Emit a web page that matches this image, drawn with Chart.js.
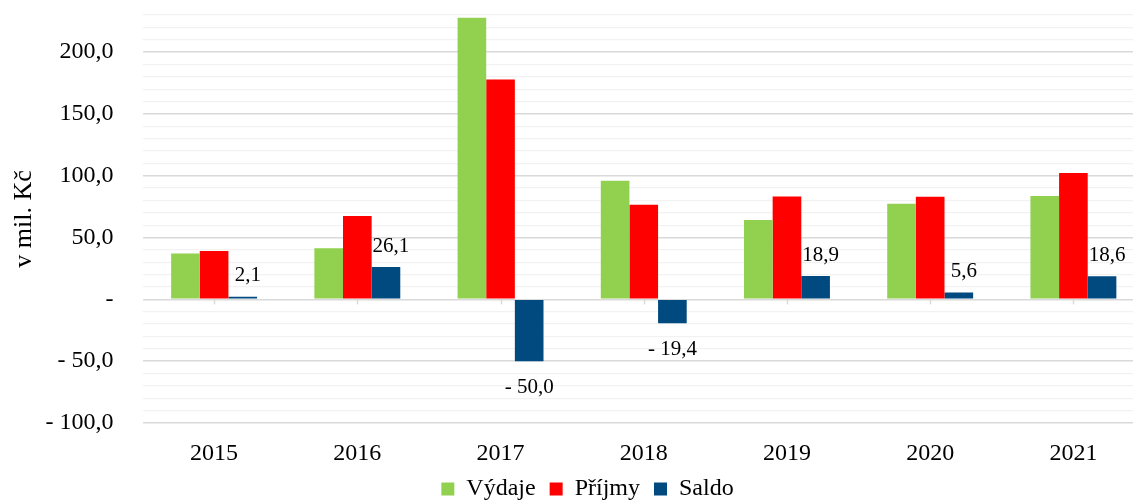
<!DOCTYPE html>
<html>
<head>
<meta charset="utf-8">
<script src="https://cdn.jsdelivr.net/npm/chart.js@4.4.0/dist/chart.umd.min.js"></script>
<style>
  html, body { margin: 0; padding: 0; background: #fff; overflow: hidden; }
</style>
</head>
<body>
<canvas id="graf" width="1150" height="501"></canvas>
<script>
const roky = ['2015', '2016', '2017', '2018', '2019', '2020', '2021'];
const vydaje = [37.0, 41.4, 227.8, 96.0, 64.2, 77.4, 83.6];
const prijmy = [39.1, 67.5, 177.8, 76.6, 83.1, 83.0, 102.2];
const saldo = [2.1, 26.1, -50.0, -19.4, 18.9, 5.6, 18.6];

const PISMO = '"Liberation Serif", "Times New Roman", serif';
const BARVY = {
  vydaje: '#92d050',
  prijmy: '#ff0000',
  saldo: '#004a80',
  mrizka: '#d9d9d9',
  mrizkaJemna: '#f2f2f2'
};

// cesky ucetni format: "- 50,0", nula jako "-"
const fmt = (v) => {
  if (Math.abs(v) < 1e-9) return '-';
  const s = Math.abs(v).toFixed(1).replace('.', ',');
  return v < 0 ? '- ' + s : s;
};

const popisky = {
  id: 'popisky',
  afterDatasetsDraw(chart) {
    const { ctx, scales: { x, y } } = chart;
    ctx.save();

    // male znacky kategorii pod nulovou osou
    const y0 = y.getPixelForValue(0);
    ctx.strokeStyle = BARVY.mrizka;
    ctx.lineWidth = 1.5;
    roky.forEach((r, i) => {
      const px = Math.round(x.getPixelForValue(i)) + 0.5;
      ctx.beginPath();
      ctx.moveTo(px, y0);
      ctx.lineTo(px, y0 + 5);
      ctx.stroke();
    });

    // hodnoty salda
    ctx.font = '21px ' + PISMO;
    ctx.fillStyle = '#000';
    ctx.textAlign = 'center';
    ctx.textBaseline = 'middle';
    chart.getDatasetMeta(2).data.forEach((bar, i) => {
      const v = saldo[i];
      if (v >= 0) ctx.fillText(fmt(v), bar.x + 5, bar.y - 21);
      else ctx.fillText(fmt(v), bar.x, bar.y + 26);
    });
    ctx.restore();
  }
};

const ctx = document.getElementById('graf');

const myChart = new Chart(ctx, {
  type: 'bar',
  data: {
    labels: roky,
    datasets: [
      { label: 'Výdaje', data: vydaje, backgroundColor: BARVY.vydaje },
      { label: 'Příjmy', data: prijmy, backgroundColor: BARVY.prijmy },
      { label: 'Saldo', data: saldo, backgroundColor: BARVY.saldo }
    ]
  },
  options: {
    responsive: false,
    animation: false,
    datasets: {
      bar: { barPercentage: 1, categoryPercentage: 0.6 }
    },
    layout: { padding: { top: 15, right: 5, left: 30, bottom: -10 } },
    plugins: {
      tooltip: { enabled: false },
      legend: {
        position: 'bottom',
        labels: {
          boxWidth: 13,
          boxHeight: 13,
          padding: 14,
          color: '#000',
          font: { family: PISMO, size: 24 }
        }
      }
    },
    scales: {
      x: {
        grid: { display: false },
        border: { display: false },
        ticks: { color: '#000', padding: 8, font: { family: PISMO, size: 24 } },
        afterFit: (s) => { s.height = 40; }
      },
      y: {
        min: -100,
        max: 230,
        border: { display: false },
        grid: {
          drawTicks: false,
          color: (c) => (Math.round(c.tick.value) % 50 === 0 ? BARVY.mrizka : BARVY.mrizkaJemna),
          lineWidth: (c) => (Math.round(c.tick.value) % 50 === 0 ? 1.5 : 1.25)
        },
        ticks: {
          stepSize: 10,
          autoSkip: false,
          padding: 29,
          color: '#000',
          font: { family: PISMO, size: 24 },
          callback: (v) => (Math.round(v) % 50 === 0 ? fmt(v) : '')
        },
        title: {
          display: true,
          text: 'v mil. Kč',
          color: '#000',
          padding: { top: -21, bottom: 0 },
          font: { family: PISMO, size: 26 }
        },
        afterFit: (s) => {
          s.width = 112.5;
          s.paddingTop = 0;
          s.paddingBottom = 0;
        }
      }
    }
  },
  plugins: [popisky]
});
</script>
</body>
</html>
